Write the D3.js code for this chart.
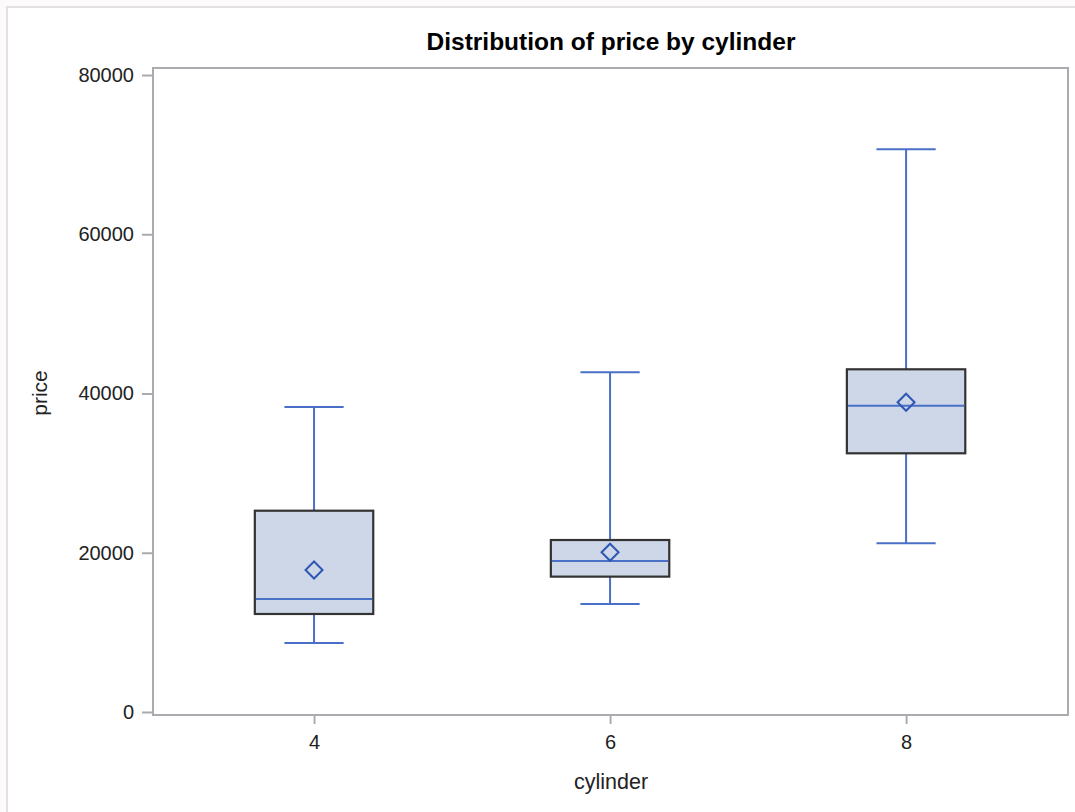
<!DOCTYPE html>
<html>
<head>
<meta charset="utf-8">
<script src="https://cdn.jsdelivr.net/npm/d3@7"></script>
<style>
  html, body { margin: 0; padding: 0; background: #fdfafc; }
  svg { display: block; }
</style>
</head>
<body>
<svg id="chart" width="1075" height="812"></svg>
<script>
// ---- data ----
const categories = [4, 6, 8];
const whiskerLow  = [8670, 13560, 21190];
const q1Values    = [12310, 17000, 32490];
const medians     = [14190, 18960, 38470];
const q3Values    = [25280, 21600, 43040];
const whiskerHigh = [38300, 42660, 70670];
const means       = [17830, 20060, 38900];
const yTicks = [0, 20000, 40000, 60000, 80000];
const xTicks = [4, 6, 8];

const boxes = categories.map((c, i) => ({
  cat: c, lo: whiskerLow[i], q1: q1Values[i], med: medians[i],
  q3: q3Values[i], hi: whiskerHigh[i], mean: means[i]
}));

const svg = d3.select("#chart");
const font = "'Liberation Sans', Arial, sans-serif";

// outer page frame
svg.append("rect").attr("x", 7).attr("y", 7).attr("width", 1075).attr("height", 812)
  .attr("fill", "#ffffff").attr("stroke", "#e2e0e2").attr("stroke-width", 2);

const L = 153, R = 1068, T = 68, B = 715;
const x = d3.scaleLinear().domain([2.912, 9.094]).range([L, R]);
const y = d3.scaleLinear().domain([-377, 80880]).range([B, T]);

// title
svg.append("text").attr("x", 611).attr("y", 50).attr("text-anchor", "middle")
  .attr("font-family", font).attr("font-weight", "bold").attr("font-size", 24.5)
  .attr("fill", "#000").text("Distribution of price by cylinder");

// axes
const axisColor = "#a9abae";
const yAxis = svg.append("g").attr("transform", `translate(${L},0)`)
  .call(d3.axisLeft(y).tickValues(yTicks).tickFormat(d3.format("d")).tickSizeOuter(0).tickSize(11).tickPadding(8));
const xAxis = svg.append("g").attr("transform", `translate(0,${B})`)
  .call(d3.axisBottom(x).tickValues(xTicks).tickFormat(d3.format("d")).tickSizeOuter(0).tickSize(9).tickPadding(11));
[yAxis, xAxis].forEach(a => {
  a.select(".domain").remove();
  a.selectAll(".tick line").attr("stroke", axisColor).attr("stroke-width", 2);
  a.selectAll(".tick text").attr("font-family", font).attr("font-size", 20).attr("fill", "#222");
});

// plot frame
svg.append("rect").attr("x", L).attr("y", T).attr("width", R - L).attr("height", B - T)
  .attr("fill", "none").attr("stroke", axisColor).attr("stroke-width", 2);

// axis labels
svg.append("text").attr("x", 611).attr("y", 789).attr("text-anchor", "middle")
  .attr("font-family", font).attr("font-size", 21.5).attr("fill", "#222").text("cylinder");
svg.append("text").attr("transform", "translate(47,393) rotate(-90)").attr("text-anchor", "middle")
  .attr("font-family", font).attr("font-size", 21).attr("fill", "#222").text("price");

// boxes
const boxW = x(4.4) - x(3.6);
const capW = boxW / 2;
const blue = "#4a6fc6";
const g = svg.append("g");
const bx = g.selectAll("g.box").data(boxes).join("g").attr("class", "box");

bx.append("line").attr("x1", d => x(d.cat)).attr("x2", d => x(d.cat))
  .attr("y1", d => y(d.hi)).attr("y2", d => y(d.q3)).attr("stroke", blue).attr("stroke-width", 2);
bx.append("line").attr("x1", d => x(d.cat)).attr("x2", d => x(d.cat))
  .attr("y1", d => y(d.q1)).attr("y2", d => y(d.lo)).attr("stroke", blue).attr("stroke-width", 2);
bx.append("line").attr("x1", d => x(d.cat) - capW / 2).attr("x2", d => x(d.cat) + capW / 2)
  .attr("y1", d => y(d.hi)).attr("y2", d => y(d.hi)).attr("stroke", blue).attr("stroke-width", 2);
bx.append("line").attr("x1", d => x(d.cat) - capW / 2).attr("x2", d => x(d.cat) + capW / 2)
  .attr("y1", d => y(d.lo)).attr("y2", d => y(d.lo)).attr("stroke", blue).attr("stroke-width", 2);
bx.append("rect").attr("x", d => x(d.cat) - boxW / 2).attr("width", boxW)
  .attr("y", d => y(d.q3)).attr("height", d => y(d.q1) - y(d.q3))
  .attr("fill", "#cdd7e7").attr("stroke", "#333333").attr("stroke-width", 2.2);
bx.append("line").attr("x1", d => x(d.cat) - boxW / 2 + 1).attr("x2", d => x(d.cat) + boxW / 2 - 1)
  .attr("y1", d => y(d.med)).attr("y2", d => y(d.med)).attr("stroke", blue).attr("stroke-width", 2);
bx.append("path")
  .attr("d", d => { const cx = x(d.cat), cy = y(d.mean), r = 8.5;
    return `M${cx},${cy - r}L${cx + r},${cy}L${cx},${cy + r}L${cx - r},${cy}Z`; })
  .attr("fill", "none").attr("stroke", "#2e56b4").attr("stroke-width", 2);
</script>
</body>
</html>
